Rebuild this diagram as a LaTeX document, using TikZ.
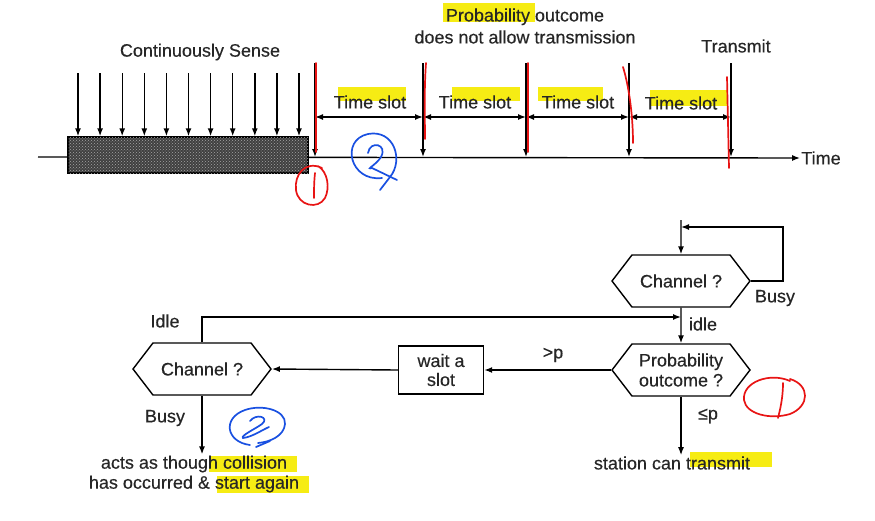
\documentclass[tikz,border=0pt]{standalone}
\usepackage{fontspec}
\setmainfont{Liberation Sans}[FakeBold=0.4]
\usetikzlibrary{arrows.meta,shapes.symbols,patterns,calc}
\definecolor{hly}{RGB}{246,236,20}
\definecolor{mred}{RGB}{232,20,20}
\definecolor{mblue}{RGB}{25,80,225}
\begin{document}
\begin{tikzpicture}[x=1pt,y=-1pt,
  every node/.style={font=\fontsize{18}{22}\selectfont\color{black!85}, inner sep=1pt},
  ln/.style={line width=1.4pt},
  arr/.style={ln,-{Latex[length=8pt,width=6pt]}},
  darr/.style={ln,{Latex[length=8pt,width=6pt]}-{Latex[length=8pt,width=6pt]}},
  hexa/.style={signal, signal to=east and west, signal pointer angle=105, draw, ln,
    minimum width=138pt, minimum height=52pt, inner sep=2pt, align=center, fill=white},
  hl/.style={fill=hly, draw=none},
  redmark/.style={draw=mred, line width=1.7pt, line cap=round},
  bluemark/.style={draw=mblue, line width=1.7pt, line cap=round}
]
\useasboundingbox (0,0) rectangle (875,520);

% yellow highlights
\fill[hl] (443,3) rectangle (535,22);
\fill[hl] (338,87) rectangle (406,101);
\fill[hl] (452,87) rectangle (520,101);
\fill[hl] (538,87) rectangle (603,101);
\fill[hl] (650,90) rectangle (727,106);
\fill[hl] (209,456) rectangle (297,472);
\fill[hl] (217,476) rectangle (309,493);
\fill[hl] (690,452) rectangle (772,467);

% top: timeline
\node (cs) at (200,52) {Continuously Sense};
\node[align=center] (pr) at (525,26) {Probability outcome\\does not allow transmission};
\node (tx) at (736,46) {Transmit};
\node (time) at (821,158) {Time};
\coordinate (ax0) at (38,157);
\draw[arr] (ax0) -- (time.west);
\node[draw, ln, fill=black!75, minimum width=240pt, minimum height=36pt,
  postaction={pattern=crosshatch dots, pattern color=black!35}] (sense) at (188,155) {};
\foreach \i in {0,...,10} {
  \coordinate (s\i) at ({78+22.1*\i},73);
  \draw[arr] (s\i) -- (s\i |- sense.north);
}
\foreach \i/\x in {0/315,1/423,2/526,3/629,4/731} {
  \coordinate (t\i) at (\x,63);
  \coordinate (b\i) at (\x,157);
  \coordinate (m\i) at (\x,117);
  \draw[arr] (t\i) -- (b\i);
}
\draw[darr] (m0) -- (m1);
\draw[darr] (m1) -- (m2);
\draw[darr] (m2) -- (m3);
\draw[darr] (m3) -- (m4);
\node (ts1) at (370,102) {Time slot};
\node (ts2) at (475,102) {Time slot};
\node (ts3) at (578,102) {Time slot};
\node (ts4) at (681,103) {Time slot};

% red marks on the timeline
\draw[redmark] (316,63) -- (316,152);
\draw[redmark] (426,63) .. controls (424,90) and (425,120) .. (425,139);
\draw[redmark] (528,63) -- (528,152);
\draw[redmark] (623,67) .. controls (630,90) and (633,120) .. (633,143);
\draw[redmark] (727,77) -- (729,168);
% red (1) top
\draw[redmark] (322,168) .. controls (305,160) and (294,175) .. (296,190)
  .. controls (298,206) and (318,210) .. (325,198) .. controls (330,188) and (328,172) .. (318,166);
\draw[redmark] (315,173) .. controls (314,182) and (314,190) .. (314,198);
% blue (2) top
\draw[bluemark] (382,178) .. controls (350,182) and (340,140) .. (368,134)
  .. controls (394,129) and (404,160) .. (390,177) -- (380,190);
\draw[bluemark] (368,153) .. controls (370,140) and (388,144) .. (381,157)
  .. controls (376,165) and (365,170) .. (372,168) -- (397,180);

% bottom: flowchart
\node[hexa] (ch1) at (681,281) {Channel ?};
\node[hexa] (po) at (681,370) {Probability\\[-2pt]outcome ?};
\node[hexa] (ch2) at (202,369) {Channel ?};
\node[draw, ln, minimum width=85pt, minimum height=48pt, align=center, inner sep=2pt] (wait) at (441,370) {wait a\\[-3pt]slot};
\coordinate (in) at (681,220);
\coordinate (lp) at (783,227);
\coordinate (j) at (681,317);
\draw[arr] (in) -- (ch1);
\draw[arr] (ch1.east) -| (lp) -- (in |- lp);
\draw[arr] (ch1) -- (po);
\draw[arr] (ch2.north) |- (j);
\draw[arr] (po.west) -- (wait.east);
\draw[arr] (wait.west) -- (ch2.east);
\node (busy1) at (775,298) {Busy};
\node (idle1) at (703,324) {idle};
\node (idle2) at (165,321) {Idle};
\node (gp) at (553,355) {>p};
\node (busy2) at (165,418) {Busy};
\node (lep) at (708,416) {≤p};
\node[align=center, font=\fontsize{18}{20}\selectfont\color{black!85}] (act) at (194,474) {acts as though collision\\has occurred \& start again};
\node (st) at (672,463) {station can transmit};
\draw[arr] (ch2.south) -- (ch2.south |- act.north);
\draw[arr] (po.south) -- (po.south |- st.north);

% red (1) bottom
\draw[redmark] (790,381) .. controls (770,372) and (742,382) .. (744,400)
  .. controls (746,414) and (770,420) .. (790,414) .. controls (810,406) and (810,385) .. (790,379);
\draw[redmark] (783,383) .. controls (783,398) and (780,410) .. (778,418);
% blue (2) bottom
\draw[bluemark] (250,445) .. controls (226,442) and (222,418) .. (245,410)
  .. controls (262,404) and (286,410) .. (285,424) .. controls (284,436) and (270,442) .. (258,443);
\draw[bluemark] (250,421) .. controls (256,413) and (270,417) .. (262,424)
  .. controls (255,429) and (240,436) .. (243,438) .. controls (252,437) and (262,430) .. (269,427);
\draw[bluemark] (256,447) -- (270,441);
\end{tikzpicture}
\end{document}
